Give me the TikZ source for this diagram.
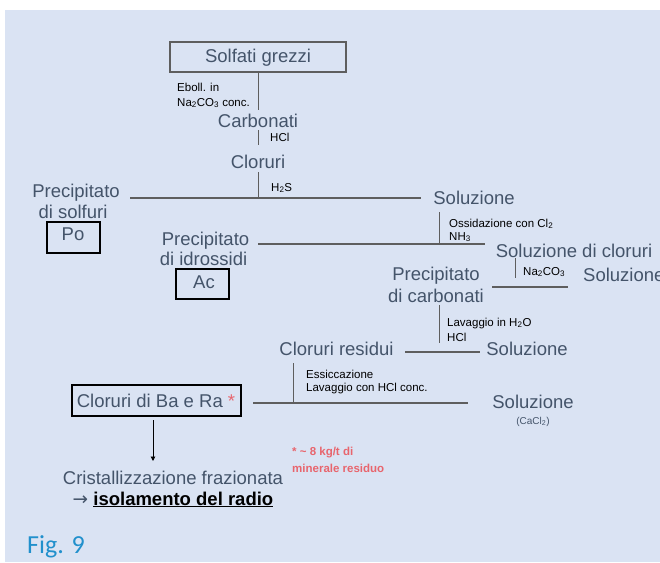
\documentclass[tikz,border=0pt]{standalone}
\usepackage{fontspec}
\setmainfont{Liberation Sans}
\newfontfamily\figfont{Carlito}
\newfontfamily\arrfont{DejaVu Sans}
\usetikzlibrary{arrows.meta}
\definecolor{bgc}{HTML}{DAE3F3}
\definecolor{txc}{HTML}{44546A}
\definecolor{lnc}{HTML}{5E5E5E}
\definecolor{redc}{HTML}{E8656D}
\definecolor{figc}{HTML}{2190CC}
\begin{document}
\begin{tikzpicture}[x=1pt,y=-1pt,
 big/.style={font=\fontsize{18.5}{22}\selectfont, text=txc, inner sep=0pt, anchor=base},
 bigw/.style={big, anchor=base west},
 sm/.style={font=\fontsize{11.5}{13}\selectfont, text=black, inner sep=0pt, anchor=base west},
 hl/.style={draw=lnc, line width=1.4pt},
 vl/.style={draw=lnc, line width=1pt},
 kbox/.style={draw=black, line width=1.8pt, inner sep=0pt}]
\useasboundingbox (0,0) rectangle (660,562);
\fill[bgc] (5,10) rectangle (660,562);

% top box
\node[draw=lnc, line width=1.2pt, minimum width=176pt, minimum height=30pt, inner sep=0pt] (solfbox) at (258,57) {};
\node[big] (solf) at (258,62) {Solfati grezzi};
\node[sm] (eb1) at (177,91) {Eboll. in};
\node[sm] (eb2) at (177,106) {Na\textsubscript{2}CO\textsubscript{3} conc.};
\coordinate (c1) at (258,110);
\draw[vl] (solfbox.south) -- (c1);

\node[big] (carb) at (258,127) {Carbonati};
\coordinate (c2a) at (258,130);
\coordinate (c2b) at (258,145);
\draw[vl] (c2a) -- (c2b);
\node[sm] (hcl1) at (270,141) {HCl};

\node[big] (clor) at (258,168) {Cloruri};
\coordinate (c3a) at (258,172);
\coordinate (h1l) at (130,198);
\coordinate (h1r) at (421,198);
\coordinate (c3b) at (258,198);
\draw[vl] (c3a) -- (c3b);
\node[sm] (h2s) at (271,191) {H\textsubscript{2}S};
\draw[hl] (h1l) -- (h1r);

% precipitato di solfuri
\node[big] (ps1) at (76,197) {Precipitato};
\node[big] (ps2) at (73,218) {di solfuri};
\node[kbox, minimum width=53pt, minimum height=31pt] (pobox) at (73.5,237.5) {};
\node[big] (po) at (73,240) {Po};

% soluzione 1
\node[big] (sol1) at (474,204) {Soluzione};
\coordinate (c4a) at (439,212);
\coordinate (c4b) at (439,244);
\draw[vl] (c4a) -- (c4b);
\node[sm] (oss1) at (449,227) {Ossidazione con Cl\textsubscript{2}};
\node[sm] (oss2) at (449,240) {NH\textsubscript{3}};
\coordinate (h2l) at (258,244);
\coordinate (h2r) at (485,244);
\draw[hl] (h2l) -- (h2r);

% precipitato di idrossidi
\node[big] (pi1) at (205.5,245) {Precipitato};
\node[big] (pi2) at (203.5,265) {di idrossidi};
\node[kbox, minimum width=53pt, minimum height=30pt] (acbox) at (202.5,284) {};
\node[big] (ac) at (204,288) {Ac};

% soluzione di cloruri
\node[big] (solcl) at (574,257) {Soluzione di cloruri};
\coordinate (c5a) at (515,258);
\coordinate (c5b) at (515,278);
\draw[vl] (c5a) -- (c5b);
\node[sm] (na2) at (523,275) {Na\textsubscript{2}CO\textsubscript{3}};
\coordinate (h3l) at (492,287);
\coordinate (h3r) at (568,287);
\draw[hl] (h3l) -- (h3r);
\node[bigw] (sol2) at (583,281) {Soluzione};

% precipitato di carbonati
\node[big] (pc1) at (436,280) {Precipitato};
\node[big] (pc2) at (436,302) {di carbonati};
\coordinate (c6a) at (439,305);
\coordinate (c6b) at (439,343);
\draw[vl] (c6a) -- (c6b);
\node[sm] (lav1) at (447,326) {Lavaggio in H\textsubscript{2}O};
\node[sm] (lav2) at (447,341) {HCl};

% cloruri residui
\node[big] (clres) at (336.5,355) {Cloruri residui};
\coordinate (h4l) at (405,352);
\coordinate (h4r) at (480,352);
\draw[hl] (h4l) -- (h4r);
\node[big] (sol3) at (527,355) {Soluzione};

\coordinate (c7a) at (293,363);
\coordinate (c7b) at (293,403);
\draw[vl] (c7a) -- (c7b);
\node[sm] (ess1) at (306,378) {Essiccazione};
\node[sm] (ess2) at (306,391) {Lavaggio con HCl conc.};
\coordinate (h5l) at (253,403);
\coordinate (h5r) at (468,403);
\draw[hl] (h5l) -- (h5r);
\node[big] (sol4) at (533,408) {Soluzione};
\node[font=\fontsize{10}{12}\selectfont, text=txc, inner sep=0pt, anchor=base] (cacl) at (533,424) {(CaCl\textsubscript{2})};

% cloruri di Ba e Ra
\node[kbox, minimum width=169pt, minimum height=31pt] (babox) at (156.5,400.5) {};
\node[big] (ba) at (156,407) {Cloruri di Ba e Ra \textcolor{redc}{*}};
\coordinate (ar1) at (153,420);
\coordinate (ar2) at (153,461);
\draw[line width=0.9pt, -{Triangle[length=4.5pt,width=4.5pt]}] (ar1) -- (ar2);

\node[sm, text=redc, font=\fontsize{11.5}{13}\selectfont\bfseries] (nt1) at (292,455) {* \textasciitilde{} 8 kg/t di};
\node[sm, text=redc, font=\fontsize{11.5}{13}\selectfont\bfseries] (nt2) at (292,472) {minerale residuo};

\node[big] (crist) at (173,484) {Cristallizzazione frazionata};
\node[big] (iso) at (173,505) {{\arrfont →} \textcolor{black}{\bfseries\underline{isolamento del radio}}};

\node[font=\figfont\fontsize{26}{30}\selectfont, text=figc, anchor=base west, inner sep=0pt] (fig) at (27,553) {Fig. 9};
\end{tikzpicture}
\end{document}
